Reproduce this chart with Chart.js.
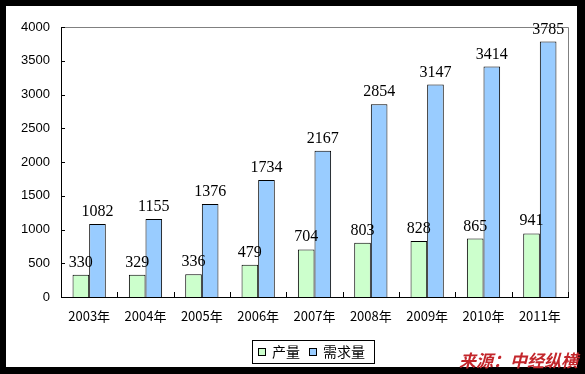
<!DOCTYPE html>
<html>
<head>
<meta charset="utf-8">
<script src="https://cdn.jsdelivr.net/npm/chart.js@4/dist/chart.umd.min.js"></script>
<style>
html,body{margin:0;padding:0;background:#000;}
#wrap{position:absolute;left:0;top:0;width:585px;height:374px;}
</style>
</head>
<body>
<div id="wrap"><canvas id="c" width="585" height="374"></canvas></div>
<script>
const categories = ['2003年','2004年','2005年','2006年','2007年','2008年','2009年','2010年','2011年'];
const seriesNames = ['产量','需求量'];
const production = [330,329,336,479,704,803,828,865,941];
const demand = [1082,1155,1376,1734,2167,2854,3147,3414,3785];
const yTicks = [0,500,1000,1500,2000,2500,3000,3500,4000];
const sourceText = '来源：中经纵横';

const frame = {
  id:'frame',
  beforeDraw(chart){
    const ctx = chart.ctx;
    ctx.save();
    ctx.fillStyle = '#000';
    ctx.fillRect(0,0,chart.width,chart.height);
    ctx.fillStyle = '#fff';
    ctx.fillRect(6,6,571,361);
    ctx.restore();
  },
  afterDraw(chart){
    const ctx = chart.ctx;
    const a = chart.chartArea;
    const xs = chart.scales.x, ys = chart.scales.y;
    ctx.save();
    ctx.strokeStyle = '#808080';
    ctx.lineWidth = 1;
    ctx.beginPath();
    ctx.moveTo(Math.round(a.left)+0.5, Math.round(a.top)+0.5);
    ctx.lineTo(Math.round(a.right)+0.5, Math.round(a.top)+0.5);
    ctx.lineTo(Math.round(a.right)+0.5, Math.round(a.bottom)+0.5);
    ctx.stroke();
    ctx.strokeStyle = '#000';
    ctx.beginPath();
    ctx.moveTo(Math.round(a.left)+0.5, Math.round(a.top));
    ctx.lineTo(Math.round(a.left)+0.5, Math.round(a.bottom)+0.5);
    ctx.lineTo(Math.round(a.right)+1, Math.round(a.bottom)+0.5);
    ctx.stroke();
    ctx.beginPath();
    yTicks.forEach(v=>{
      const y = Math.round(ys.getPixelForValue(v))+0.5;
      ctx.moveTo(a.left, y); ctx.lineTo(a.left+4, y);
    });
    const n = categories.length;
    for(let i=1;i<=n;i++){
      const x = Math.round(a.left + (a.right-a.left)*i/n)+0.5;
      ctx.moveTo(x, a.bottom); ctx.lineTo(x, a.bottom-5);
    }
    ctx.stroke();
    ctx.fillStyle = '#000';
    ctx.font = '16px "Liberation Serif", "Times New Roman", serif';
    ctx.textAlign = 'center';
    ctx.textBaseline = 'alphabetic';
    chart.data.datasets.forEach((ds,di)=>{
      const meta = chart.getDatasetMeta(di);
      meta.data.forEach((bar,i)=>{
        ctx.fillText(String(ds.data[i]), bar.x, bar.y - 8);
      });
    });
    ctx.strokeStyle = '#000';
    ctx.lineWidth = 1;
    ctx.strokeRect(252.5, 340.5, 122, 23);
    ctx.font = '14px "Noto Sans CJK SC", sans-serif';
    ctx.textAlign = 'left';
    ctx.textBaseline = 'middle';
    const items = [{x:258, tx:272},{x:309, tx:323}];
    chart.data.datasets.forEach((ds,di)=>{
      const it = items[di];
      ctx.fillStyle = ds.backgroundColor;
      ctx.fillRect(it.x, 348, 8, 8);
      ctx.strokeRect(it.x+0.5, 348.5, 7, 7);
      ctx.fillStyle = '#000';
      ctx.fillText(ds.label, it.tx, 352);
    });
    ctx.font = 'italic bold 17px "Noto Sans CJK SC", sans-serif';
    ctx.fillStyle = '#c3262b';
    ctx.textAlign = 'right';
    ctx.textBaseline = 'middle';
    ctx.fillText(sourceText, 578, 361);
    ctx.restore();
  }
};

new Chart(document.getElementById('c'), {
  type:'bar',
  data:{
    labels: categories,
    datasets:[
      {label:seriesNames[0], data:production, backgroundColor:'#CCFFCC', borderColor:'#000', borderWidth:1, categoryPercentage:0.59, barPercentage:1},
      {label:seriesNames[1], data:demand, backgroundColor:'#99CCFF', borderColor:'#000', borderWidth:1, categoryPercentage:0.59, barPercentage:1}
    ]
  },
  options:{
    responsive:false,
    animation:false,
    devicePixelRatio:1,
    layout:{padding:{left:0,right:17,top:27,bottom:0}},
    plugins:{legend:{display:false},tooltip:{enabled:false}},
    scales:{
      x:{
        grid:{display:false, drawTicks:false},
        border:{display:false},
        ticks:{color:'#000', padding:11, font:{size:13, family:'"Noto Sans CJK SC", "Liberation Sans", sans-serif'}, maxRotation:0, autoSkip:false},
        afterFit(s){ s.height = 77; }
      },
      y:{
        min:0, max:4000,
        grid:{display:false, drawTicks:false},
        border:{display:false},
        ticks:{stepSize:500, color:'#000', padding:11, font:{size:13, family:'"Liberation Sans", Arial, sans-serif'}, callback:(v)=>String(v)},
        afterFit(s){ s.width = 61; }
      }
    }
  },
  plugins:[frame]
});
</script>
</body>
</html>
